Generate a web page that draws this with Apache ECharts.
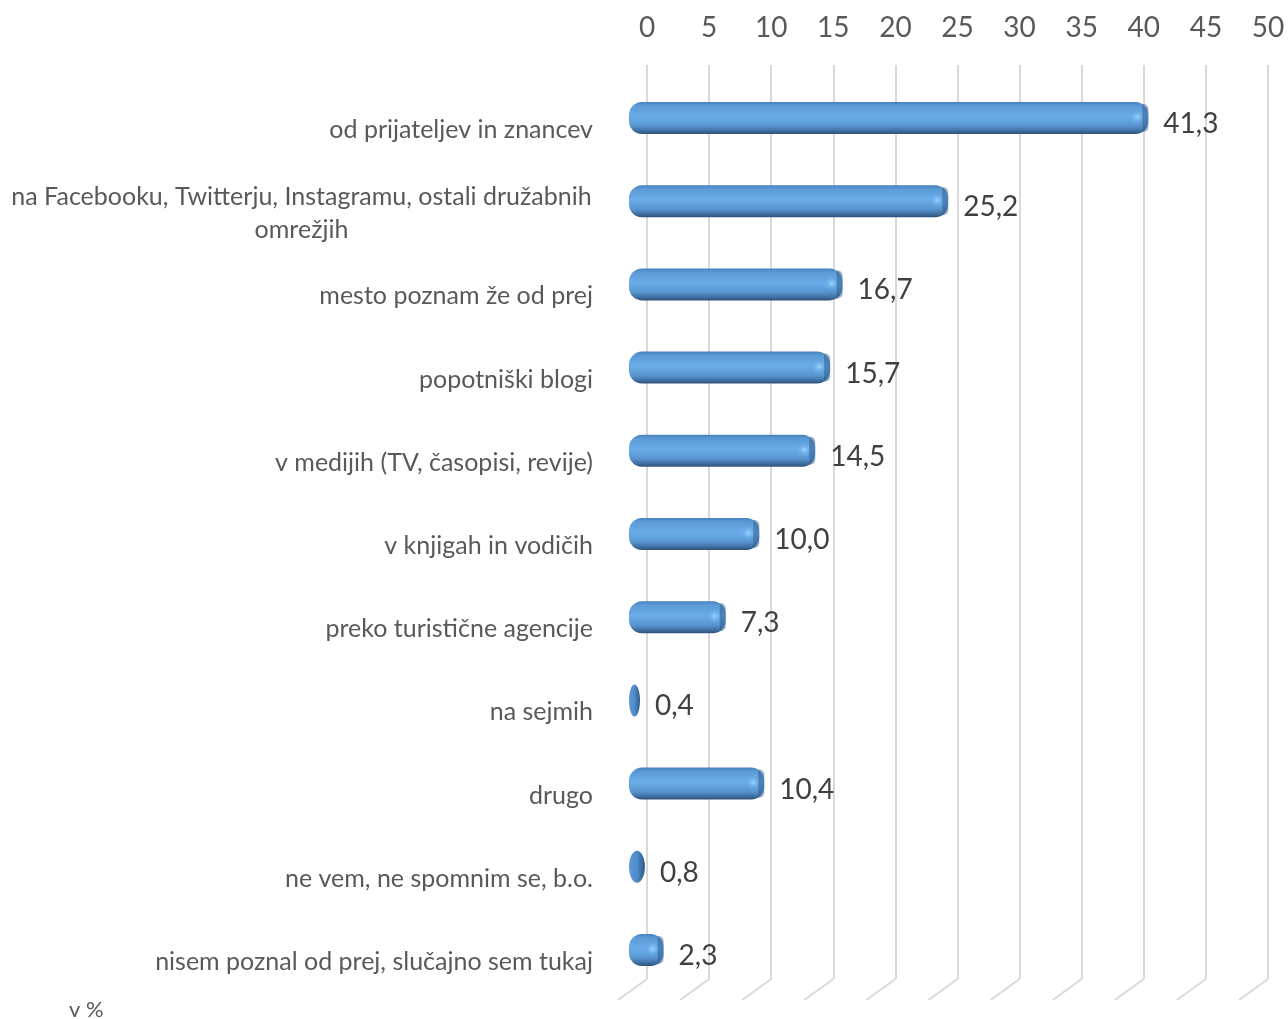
<!DOCTYPE html>
<html>
<head>
<meta charset="utf-8">
<script src="https://cdn.jsdelivr.net/npm/echarts@6/dist/echarts.min.js"></script>
<style>
html,body{margin:0;padding:0;background:#fff;}
#chart{width:1288px;height:1019px;}
</style>
</head>
<body>
<div id="chart"></div>
<script>
const categories = [
  'od prijateljev in znancev',
  'na Facebooku, Twitterju, Instagramu, ostali družabnih omrežjih',
  'mesto poznam že od prej',
  'popotniški blogi',
  'v medijih (TV, časopisi, revije)',
  'v knjigah in vodičih',
  'preko turistične agencije',
  'na sejmih',
  'drugo',
  'ne vem, ne spomnim se, b.o.',
  'nisem poznal od prej, slučajno sem tukaj'
];
const values = [41.3, 25.2, 16.7, 15.7, 14.5, 10.0, 7.3, 0.4, 10.4, 0.8, 2.3];
const axisMin = 0;
const axisMax = 50;
const axisStep = 5;
const tickValues = [0, 5, 10, 15, 20, 25, 30, 35, 40, 45, 50];
const unitLabel = 'v %';

const FONT = 'Lato';
const chart = echarts.init(document.getElementById('chart'));

const barData = values.map((v, i) => [v, i]);

const option = {
  animation: false,
  backgroundColor: '#ffffff',
  title: {
    text: unitLabel,
    left: 64, top: 994,
    textStyle: {fontFamily: FONT, fontSize: 22, fontWeight: 'normal', color: '#595959'}
  },
  grid: [
    {left: 647, right: 20, top: 65, bottom: 40},
    {left: 635, right: 31.5, top: 76.4, bottom: 27.4},
    {left: 635, right: 31.5, top: 88.4, bottom: 15.4}
  ],
  xAxis: [
    {
      gridIndex: 0, type: 'value', position: 'top',
      min: axisMin, max: axisMax, interval: axisStep,
      axisLine: {show: false}, axisTick: {show: false},
      axisLabel: {fontFamily: FONT, fontSize: 28, color: '#595959', margin: 23},
      splitLine: {show: true, lineStyle: {color: '#d9d9d9', width: 2}}
    },
    {gridIndex: 1, type: 'value', min: axisMin, max: axisMax, show: false},
    {gridIndex: 2, type: 'value', min: axisMin, max: axisMax, show: false}
  ],
  yAxis: [
    {gridIndex: 0, type: 'value', min: 0, max: 1, show: false},
    {gridIndex: 1, type: 'category', data: categories, inverse: true, show: false},
    {
      gridIndex: 2, type: 'category', data: categories, inverse: true,
      axisLine: {show: false}, axisTick: {show: false},
      axisLabel: {
        fontFamily: FONT, fontSize: 25, color: '#595959', margin: 42,
        formatter: function (v) {
          if (v.length > 45) {
            const idx = v.lastIndexOf(' ');
            return '{c|' + v.slice(0, idx) + '}\n{c|' + v.slice(idx + 1) + '}';
          }
          return v;
        },
        rich: {
          c: {fontFamily: FONT, fontSize: 25, color: '#595959', width: 583, align: 'center', lineHeight: 33}
        }
      }
    }
  ],
  series: [
    {
      type: 'custom',
      xAxisIndex: 0, yAxisIndex: 0,
      data: tickValues,
      encode: {x: 0},
      silent: true,
      renderItem: function (params, api) {
        const p = api.coord([api.value(0), 0]);
        return {
          type: 'line',
          shape: {x1: p[0], y1: p[1], x2: p[0] - 29, y2: p[1] + 21},
          style: {stroke: '#d9d9d9', lineWidth: 2}
        };
      }
    },
    {
      type: 'custom',
      xAxisIndex: 1, yAxisIndex: 1,
      data: barData,
      encode: {x: 0, y: 1},
      renderItem: function (params, api) {
        const v = api.value(0);
        const c = api.value(1);
        const s = api.coord([0, c]);
        const e = api.coord([v, c]);
        const h = 32;
        const x0 = s[0] - 6;
        const w = e[0] - x0;
        const cy = s[1];
        const fill = new echarts.graphic.LinearGradient(0, 0, 0, 1, [
          {offset: 0, color: '#4780bd'},
          {offset: 0.12, color: '#5b9ad6'},
          {offset: 0.45, color: '#6aade8'},
          {offset: 0.75, color: '#5894cf'},
          {offset: 0.9, color: '#3f6fa1'},
          {offset: 1, color: '#2d5177'}
        ]);
        const children = [];
        if (w < 30) {
          children.push({
            type: 'ellipse',
            shape: {cx: x0 + w / 2, cy: cy, rx: w / 2, ry: h / 2},
            style: {fill: new echarts.graphic.LinearGradient(0, 0, 1, 0, [
              {offset: 0, color: '#5d9ad6'},
              {offset: 0.5, color: '#4f8cc9'},
              {offset: 1, color: '#2f5a85'}
            ])}
          });
        } else {
          children.push({
            type: 'rect',
            shape: {x: x0, y: cy - h / 2, width: w, height: h, r: Math.min(13, w / 2)},
            style: {fill: fill}
          });
          children.push({
            type: 'ellipse',
            shape: {cx: e[0] - 11, cy: cy - 1, rx: 8, ry: 13},
            style: {fill: new echarts.graphic.RadialGradient(0.5, 0.5, 0.5, [
              {offset: 0, color: 'rgba(160,215,255,0.95)'},
              {offset: 0.5, color: 'rgba(120,185,240,0.5)'},
              {offset: 1, color: 'rgba(100,165,225,0)'}
            ])}
          });
          children.push({
            type: 'rect',
            shape: {x: e[0] - 6, y: cy - h / 2 + 2, width: 6, height: h - 4, r: [0, 5, 5, 0]},
            style: {fill: 'rgba(40,80,125,0.45)'}
          });
        }
        children.push({
          type: 'text',
          style: {
            text: v.toFixed(1).replace('.', ','),
            x: e[0] + 15, y: cy + 6,
            verticalAlign: 'middle', align: 'left',
            font: '28px ' + FONT, fill: '#404040'
          }
        });
        return {type: 'group', children: children};
      }
    }
  ]
};
chart.setOption(option);
</script>
</body>
</html>
